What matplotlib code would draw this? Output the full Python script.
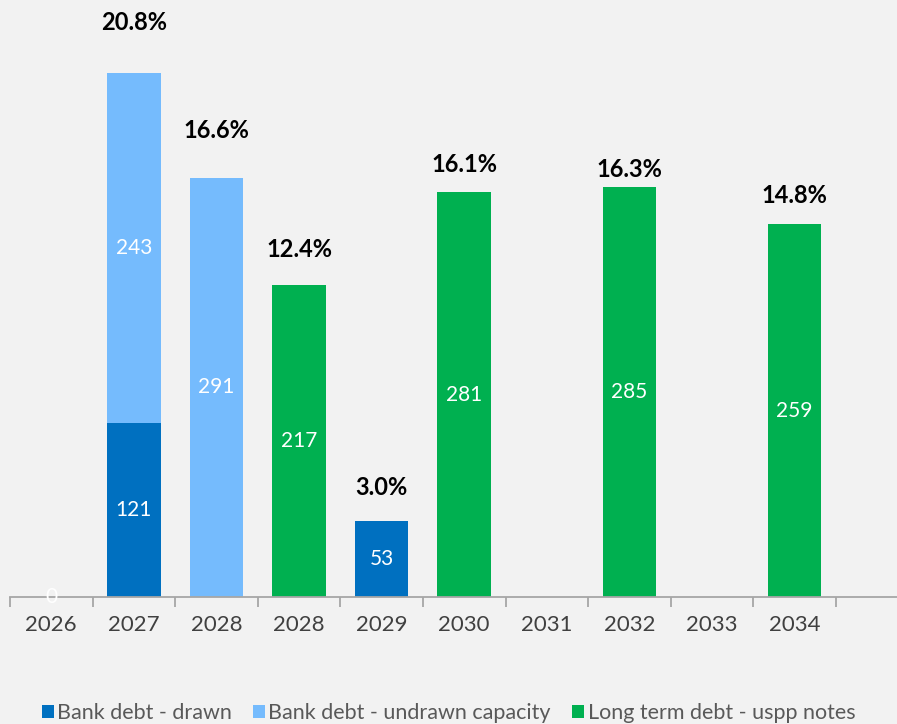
import numpy as np
import matplotlib
matplotlib.use('Agg')
from matplotlib import pyplot as plt
from matplotlib.patches import Patch

##================================ data ===========================
years = ['2026', '2027', '2028', '2028', '2029', '2030', '2031', '2032', '2033', '2034']
drawn = [0, 121, 0, 0, 53, 0, 0, 0, 0, 0]
undrawn = [0, 243, 291, 0, 0, 0, 0, 0, 0, 0]
uspp = [0, 0, 0, 217, 0, 281, 0, 285, 0, 259]
pct_labels = ['', '20.8%', '16.6%', '12.4%', '3.0%', '16.1%', '', '16.3%', '', '14.8%']

# label gap above each bar (in data units), as placed in the original
pct_gap = [0, 35, 33, 24, 23, 19, 0, 12, 0, 20]

c_drawn = '#0070c0'
c_undrawn = '#75bbfd'
c_uspp = '#00b050'
bg = '#f2f2f2'

plt.rcParams['font.family'] = ['Lato', 'DejaVu Sans']

fig = plt.figure(figsize=(8.97, 7.24), dpi=100, facecolor=bg)
ax = fig.add_axes([10/897, 127/724, 887/897, 597/724])
ax.set_facecolor(bg)

x = np.arange(len(years))
w = 0.65
drawn = np.array(drawn)
undrawn = np.array(undrawn)
uspp = np.array(uspp)

ax.bar(x, drawn, w, color=c_drawn, zorder=2)
ax.bar(x, undrawn, w, bottom=drawn, color=c_undrawn, zorder=2)
ax.bar(x, uspp, w, bottom=drawn + undrawn, color=c_uspp, zorder=2)

# value labels in the middle of each segment
for i in range(len(years)):
    if drawn[i] > 0:
        ax.text(x[i], drawn[i]/2, str(drawn[i]), ha='center', va='center', color='white', fontsize=15, zorder=3)
    if undrawn[i] > 0:
        ax.text(x[i], drawn[i] + undrawn[i]/2, str(undrawn[i]), ha='center', va='center', color='white', fontsize=15, zorder=3)
    if uspp[i] > 0:
        ax.text(x[i], drawn[i] + undrawn[i] + uspp[i]/2, str(uspp[i]), ha='center', va='center', color='white', fontsize=15, zorder=3)
# the zero bar of 2026
ax.text(x[0], 0, '0', ha='center', va='center', color='white', fontsize=15, zorder=3)

# percentage labels above the bars
tot = drawn + undrawn + uspp
for i in range(len(years)):
    if pct_labels[i]:
        ax.text(x[i], tot[i] + pct_gap[i], pct_labels[i], ha='center', va='center',
                fontsize=17, fontweight='bold', color='black', zorder=3)

ax.set_xlim(-0.5, 10.24)
ax.set_ylim(0, 597/1.44)

for s in ['top', 'right', 'left']:
    ax.spines[s].set_visible(False)
ax.spines['bottom'].set_color('#a6a6a6')
ax.spines['bottom'].set_linewidth(1.3)
ax.set_yticks([])

ax.set_xticks(x)
ax.set_xticklabels(years, fontsize=16, color='#404040')
ax.tick_params(axis='x', length=0, pad=13)
ax.set_xticks(np.arange(-0.5, 10.0, 1.0), minor=True)
ax.tick_params(axis='x', which='minor', length=7, width=1.3, color='#a6a6a6')

handles = [Patch(facecolor=c_drawn, label='Bank debt - drawn'),
           Patch(facecolor=c_undrawn, label='Bank debt - undrawn capacity'),
           Patch(facecolor=c_uspp, label='Long term debt - uspp notes')]
leg = fig.legend(handles=handles, loc='center', bbox_to_anchor=(0.5, 11/724), ncol=3,
                 frameon=False, fontsize=15.5, handlelength=0.55, handleheight=0.55,
                 handletextpad=0.15, columnspacing=1.0, borderpad=0)
for t in leg.get_texts():
    t.set_color('#595959')

fig.savefig('out.png', dpi=100, facecolor=bg)
